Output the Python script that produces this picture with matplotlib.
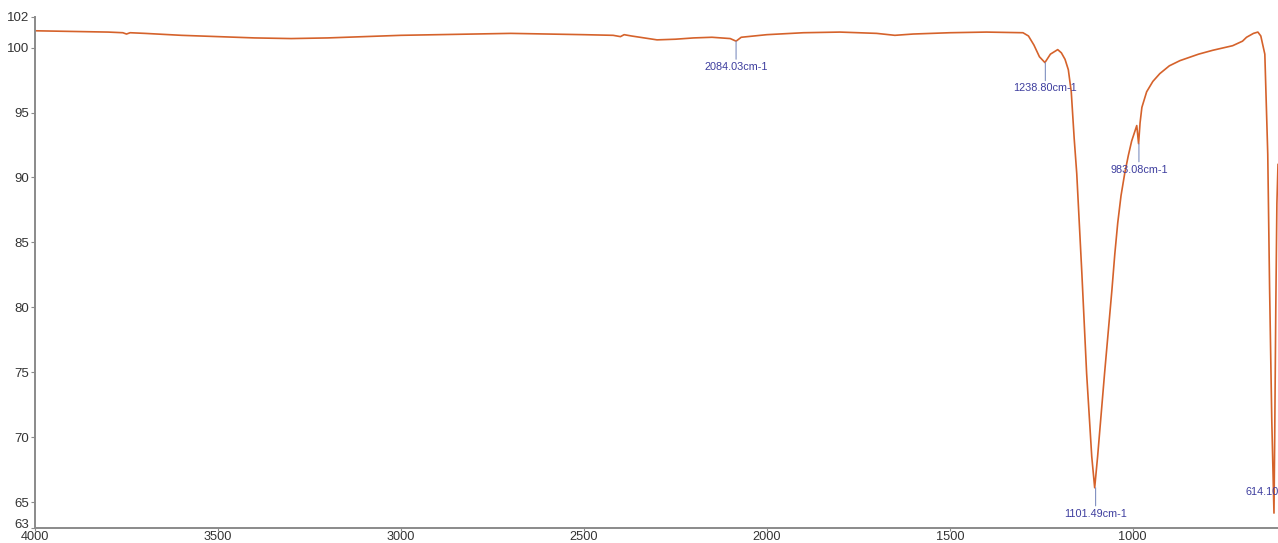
import matplotlib
matplotlib.use('Agg')
import matplotlib.pyplot as plt
import numpy as np

plt.rcParams['font.family'] = ['Liberation Sans', 'DejaVu Sans']

# FTIR spectrum: wavenumber (cm-1) vs transmittance (%)
wavenumber = [4000, 3900, 3800, 3760, 3750, 3740, 3700, 3600, 3500, 3400, 3300, 3200,
              3100, 3000, 2900, 2800, 2700, 2600, 2500, 2420, 2400, 2390, 2370, 2300,
              2250, 2200, 2150, 2100, 2084, 2070, 2000, 1900, 1800, 1700, 1650, 1600,
              1500, 1400, 1300, 1285, 1270, 1255, 1240, 1225, 1205, 1195, 1185, 1176,
              1168, 1160, 1153, 1139, 1126, 1112, 1104, 1096, 1077, 1057, 1049, 1041,
              1032, 1022, 1012, 1003, 989, 984, 980, 975, 962, 945, 926, 900, 871, 820,
              781, 727, 700, 689, 670, 658, 650, 639, 631, 626, 620, 614, 612, 609,
              606, 603]
transmittance = [101.3, 101.25, 101.2, 101.15, 101.05, 101.15, 101.1, 100.95, 100.85, 100.75, 100.7, 100.75,
                 100.85, 100.95, 101.0, 101.05, 101.1, 101.05, 101.0, 100.95, 100.85, 101.0, 100.9, 100.6,
                 100.65, 100.75, 100.8, 100.7, 100.5, 100.8, 101.0, 101.15, 101.2, 101.1, 100.95, 101.05,
                 101.15, 101.2, 101.15, 100.9, 100.2, 99.3, 98.85, 99.5, 99.85, 99.6, 99.1, 98.3,
                 96.6, 93.0, 90.3, 82.6, 74.9, 68.5, 66.1, 68.5, 74.9, 81.3, 84.1, 86.5,
                 88.6, 90.3, 91.7, 92.8, 94.0, 92.6, 94.2, 95.4, 96.6, 97.4, 98.0, 98.6, 99.0, 99.5,
                 99.8, 100.15, 100.5, 100.8, 101.1, 101.2, 100.9, 99.5, 91.8, 81.5, 71.3, 64.15, 70.0, 80.0,
                 88.0, 91.0]

peak_wn = [2084.03, 1238.80, 983.08, 1101.49, 614.10]
peak_t = [100.5, 98.85, 92.6, 66.1, 64.15]
peak_labels = ['2084.03cm-1', '1238.80cm-1', '983.08cm-1', '1101.49cm-1', '614.10cm-1']

x_ticks = [4000, 3500, 3000, 2500, 2000, 1500, 1000]
y_ticks = [63, 65, 70, 75, 80, 85, 90, 95, 100, 102.4]
y_ticklabels = ['63', '65', '70', '75', '80', '85', '90', '95', '100', '102']

fig = plt.figure(figsize=(12.78, 5.43), dpi=100)
ax = fig.add_axes([35/1278, 1 - 528/543, 1 - 35/1278, (528 - 16.5)/543])

ax.plot(wavenumber, transmittance, color='#d5622b', lw=1.2)

for wn, t, lab in zip(peak_wn, peak_t, peak_labels):
    if lab.startswith('614'):
        # no room below, label sits just above the minimum
        ax.annotate(lab, xy=(wn, t), xytext=(0, 15), textcoords='offset points',
                    ha='center', va='center', fontsize=7.8, color='#3d3d9e',
                    annotation_clip=False)
    else:
        ax.annotate(lab, xy=(wn, t), xytext=(0, -15), textcoords='offset points',
                    ha='center', va='top', fontsize=7.8, color='#3d3d9e',
                    arrowprops=dict(arrowstyle='-', color='#7f8fc0', lw=0.8,
                                    shrinkA=0, shrinkB=0),
                    annotation_clip=False)

ax.set_xlim(4000, 603)
ax.set_ylim(63, 102.4)
ax.set_xticks(x_ticks)
ax.set_yticks(y_ticks)
ax.set_yticklabels(y_ticklabels)

for s in ['top', 'right']:
    ax.spines[s].set_visible(False)
for s in ['left', 'bottom']:
    ax.spines[s].set_color('#8a8a8a')
    ax.spines[s].set_linewidth(1.4)
ax.tick_params(direction='out', length=3, width=0.8, color='#8a8a8a',
               labelsize=9.5, labelcolor='#333333', pad=1)
ax.tick_params(axis='x', length=2, pad=0, labelsize=9.2)

# the "63" label sits just above the x-axis line so it does not run into "4000"
ax.get_yticklabels()[0].set_verticalalignment('baseline')

fig.savefig('out.png', dpi=100)
